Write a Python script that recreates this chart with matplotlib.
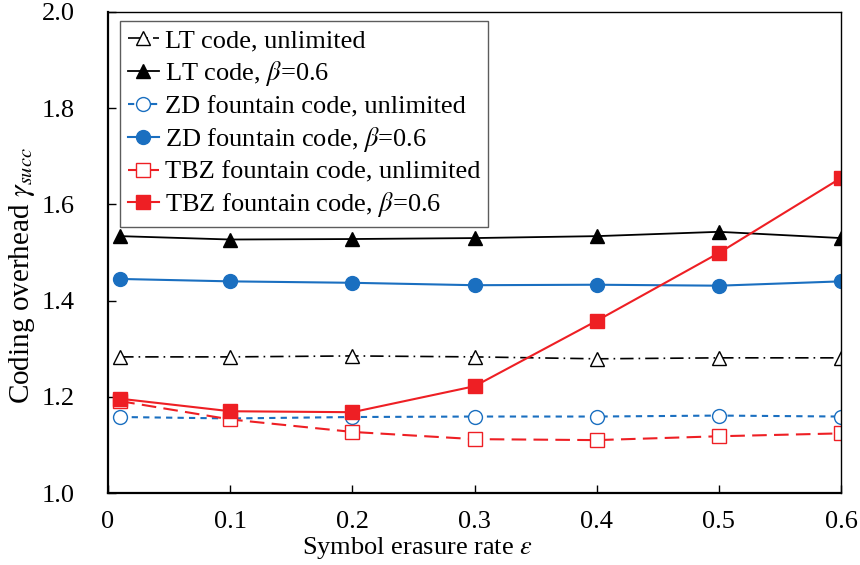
import matplotlib
matplotlib.use("Agg")
import matplotlib.pyplot as plt

# symbol erasure rate
eps = [0.01, 0.1, 0.2, 0.3, 0.4, 0.5, 0.6]

lt_unlim = [1.283, 1.283, 1.285, 1.283, 1.279, 1.281, 1.281]
lt_beta = [1.534, 1.527, 1.528, 1.530, 1.534, 1.543, 1.530]
zd_unlim = [1.158, 1.155, 1.158, 1.159, 1.159, 1.161, 1.159]
zd_beta = [1.445, 1.440, 1.437, 1.432, 1.433, 1.431, 1.440]
tbz_unlim = [1.191, 1.153, 1.127, 1.112, 1.110, 1.118, 1.124]
tbz_beta = [1.196, 1.170, 1.168, 1.222, 1.358, 1.499, 1.655]

labels = [
    "LT code, unlimited",
    r"LT code, $\beta$=0.6",
    "ZD fountain code, unlimited",
    r"ZD fountain code, $\beta$=0.6",
    "TBZ fountain code, unlimited",
    r"TBZ fountain code, $\beta$=0.6",
]

plt.rcParams['font.family'] = ['Liberation Serif', 'DejaVu Serif']
plt.rcParams['mathtext.fontset'] = 'stix'

blue = '#1a6fc0'
red = '#ee1f24'

fig = plt.figure(figsize=(8.6, 5.65), dpi=100)
ax = fig.add_axes([0.1256, 0.1274, 0.8524, 0.8514])

ax.plot(eps, lt_unlim, color='black', lw=1.2, ls=(0, (8, 3, 1, 3)),
        marker='^', ms=10, mfc='white', mec='black', mew=1.0, label=labels[0])
ax.plot(eps, lt_beta, color='black', lw=1.3, marker='^', ms=10,
        mfc='black', mec='black', label=labels[1])
ax.plot(eps, zd_unlim, color=blue, lw=1.5, ls=(0, (3, 2.5)),
        marker='o', ms=10, mfc='white', mec=blue, mew=1.0, label=labels[2])
ax.plot(eps, zd_beta, color=blue, lw=1.5, marker='o', ms=10,
        mfc=blue, mec=blue, label=labels[3])
ax.plot(eps, tbz_unlim, color=red, lw=1.5, ls=(0, (7, 3.5)),
        marker='s', ms=10, mfc='white', mec=red, mew=1.0, label=labels[4])
ax.plot(eps, tbz_beta, color=red, lw=1.5, marker='s', ms=10,
        mfc=red, mec=red, label=labels[5])

ax.set_xlim(0, 0.6)
ax.set_ylim(1.0, 2.0)
ax.set_xticks([0, 0.1, 0.2, 0.3, 0.4, 0.5, 0.6])
ax.set_xticklabels(['0', '0.1', '0.2', '0.3', '0.4', '0.5', '0.6'])
ax.set_yticks([1.0, 1.2, 1.4, 1.6, 1.8, 2.0])
ax.set_yticklabels(['1.0', '1.2', '1.4', '1.6', '1.8', '2.0'])
ax.tick_params(direction='in', length=6, width=1, labelsize=19, pad=13)
ax.tick_params(axis='y', pad=24)
for s in ax.spines.values():
    s.set_linewidth(1.0)
ax.spines['left'].set_linewidth(1.6)
ax.spines['bottom'].set_linewidth(1.6)

ax.set_xlabel(r"Symbol erasure rate $\epsilon$", fontsize=19)
ax.xaxis.set_label_coords(0.4216, -0.087)
ax.set_ylabel(r"Coding overhead $\gamma_{succ}$", fontsize=21)
ax.yaxis.set_label_coords(-0.097, 0.453)

leg = ax.legend(loc='upper left', bbox_to_anchor=(0.016, 0.981), fontsize=19,
                frameon=True, fancybox=False, edgecolor='#333333',
                handlelength=1.2, handletextpad=0.2, labelspacing=0.25,
                borderpad=0.3, borderaxespad=0)
leg.get_frame().set_linewidth(1.0)

fig.savefig('out.png', dpi=100)
